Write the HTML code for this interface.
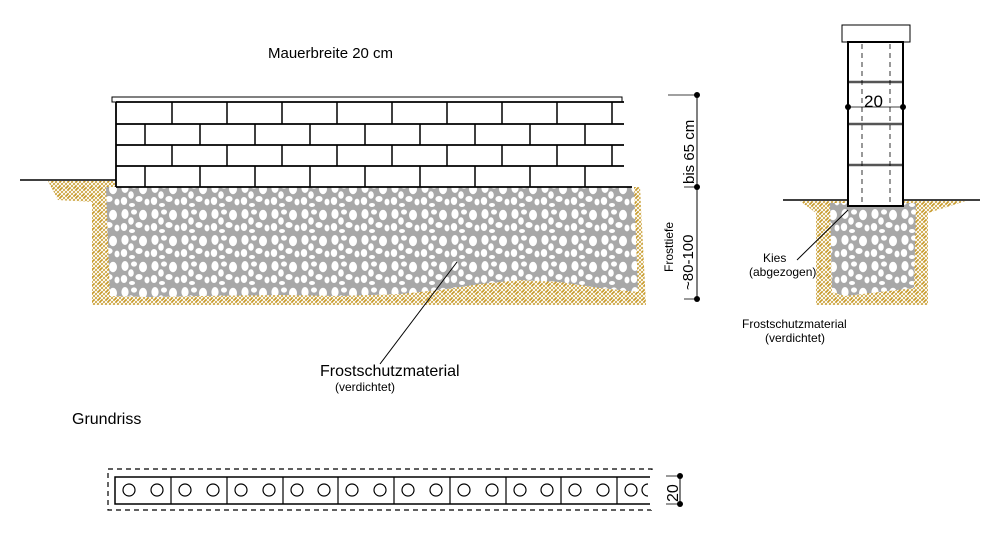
<!DOCTYPE html>
<html><head><meta charset="utf-8"><style>
html,body{margin:0;padding:0;background:#fff;}
svg{display:block;font-family:"Liberation Sans",Arial,sans-serif;}
</style></head><body>
<svg width="1000" height="539" viewBox="0 0 1000 539" xmlns="http://www.w3.org/2000/svg">
<defs>
<pattern id="soil" width="8" height="8" patternUnits="userSpaceOnUse">
<rect width="8" height="8" fill="#c79a2a"/>
<path d="M-2 10L10 -2M2 10L10 2M-2 6L6 -2" stroke="#fff" stroke-width="1"/>
<path d="M0 0L2.5 2.5M5.5 5.5L8 8M4 0L8 4M0 4L4 8" stroke="#fff" stroke-width="0.9"/>
</pattern>
<pattern id="grav" width="30" height="26" patternUnits="userSpaceOnUse">
<rect width="30" height="26" fill="#a8a8a8"/>
<g fill="#fff">
<ellipse cx="5" cy="6" rx="3.6" ry="5"/>
<ellipse cx="14" cy="4" rx="3" ry="2.6"/>
<ellipse cx="23" cy="7" rx="4" ry="5.2"/>
<ellipse cx="11" cy="13" rx="2.8" ry="3.8"/>
<ellipse cx="19" cy="17" rx="3.6" ry="3"/>
<ellipse cx="4" cy="19" rx="3.2" ry="4"/>
<ellipse cx="27" cy="20" rx="2.5" ry="3.4"/>
<ellipse cx="12" cy="23" rx="3" ry="2"/>
</g>
</pattern>
</defs>

<text x="268" y="58" font-size="15">Mauerbreite 20 cm</text>

<path d="M48 181 L116 181 L116 187 L640 187 L646 305 L92 305 L92 202 L58 200 Z" fill="url(#soil)"/>
<path d="M106 187 L634 187 L638 292 L600 288 L560 282 L520 280 L480 284 L440 290 L400 294 L340 296 L280 295 L200 296 L150 297 L110 296 Z" fill="url(#grav)"/>
<line x1="20" y1="180" x2="116" y2="180" stroke="#000" stroke-width="1.5"/>

<rect x="112" y="97" width="510" height="5" fill="#fff" stroke="#000" stroke-width="1"/>
<rect x="116" y="102" width="508" height="85" fill="#fff"/>
<g stroke="#000" stroke-width="1.8">
<line x1="116" y1="102" x2="116" y2="187"/>
<line x1="116" y1="102" x2="624" y2="102"/>
<line x1="116" y1="124" x2="624" y2="124"/>
<line x1="116" y1="145" x2="624" y2="145"/>
<line x1="116" y1="166" x2="624" y2="166"/>
<line x1="116" y1="187" x2="632" y2="187"/>
</g>
<g stroke="#000" stroke-width="1.5">
<path d="M172 102V124M227 102V124M282 102V124M337 102V124M392 102V124M447 102V124M502 102V124M557 102V124M612 102V124"/>
<path d="M145 124V145M200 124V145M255 124V145M310 124V145M365 124V145M420 124V145M475 124V145M530 124V145M585 124V145"/>
<path d="M172 145V166M227 145V166M282 145V166M337 145V166M392 145V166M447 145V166M502 145V166M557 145V166M612 145V166"/>
<path d="M145 166V187M200 166V187M255 166V187M310 166V187M365 166V187M420 166V187M475 166V187M530 166V187M585 166V187"/>
</g>

<line x1="697" y1="95" x2="697" y2="299" stroke="#000" stroke-width="1"/>
<line x1="668" y1="95" x2="697" y2="95" stroke="#000" stroke-width="0.8"/>
<line x1="684" y1="187" x2="697" y2="187" stroke="#000" stroke-width="0.8"/>
<line x1="684" y1="299" x2="697" y2="299" stroke="#000" stroke-width="0.8"/>
<circle cx="697" cy="95" r="3"/><circle cx="697" cy="187" r="3"/><circle cx="697" cy="299" r="3"/>
<text transform="translate(694,184) rotate(-90)" font-size="15">bis 65 cm</text>
<text transform="translate(673,272) rotate(-90)" font-size="12">Frosttiefe</text>
<text transform="translate(693,290) rotate(-90)" font-size="15">~80-100</text>

<line x1="457" y1="262" x2="380" y2="364" stroke="#000" stroke-width="1"/>
<text x="320" y="376" font-size="16">Frostschutzmaterial</text>
<text x="335" y="391" font-size="12">(verdichtet)</text>

<path d="M800 201 L966 201 L928 213 L928 305 L816 305 L816 213 Z" fill="url(#soil)"/>
<path d="M830 203 L916 203 L914 288 L880 292 L845 296 L832 292 Z" fill="url(#grav)"/>
<line x1="783" y1="200" x2="980" y2="200" stroke="#000" stroke-width="1.5"/>
<rect x="842" y="25" width="68" height="17" fill="#fff" stroke="#000" stroke-width="1"/>
<rect x="848" y="42" width="55" height="164" fill="#fff" stroke="#000" stroke-width="2"/>
<g stroke="#555" stroke-width="2.5">
<line x1="849" y1="82" x2="902" y2="82"/><line x1="849" y1="124" x2="902" y2="124"/><line x1="849" y1="165" x2="902" y2="165"/>
</g>
<g stroke="#000" stroke-width="0.8" stroke-dasharray="5,4">
<line x1="862" y1="44" x2="862" y2="205"/><line x1="890" y1="44" x2="890" y2="205"/>
</g>
<line x1="848" y1="107" x2="903" y2="107" stroke="#000" stroke-width="0.8"/>
<circle cx="848" cy="107" r="3"/><circle cx="903" cy="107" r="3"/>
<text x="864" y="107" font-size="17">20</text>
<line x1="797" y1="260" x2="848" y2="210" stroke="#000" stroke-width="1"/>
<text x="763" y="262" font-size="12">Kies</text>
<text x="749" y="276" font-size="12">(abgezogen)</text>
<text x="742" y="328" font-size="12">Frostschutzmaterial</text>
<text x="765" y="342" font-size="12">(verdichtet)</text>

<text x="72" y="424" font-size="16">Grundriss</text>
<rect x="108" y="469" width="544" height="41" fill="none" stroke="#000" stroke-width="1.2" stroke-dasharray="5,4"/>
<path d="M650 477H115V504H650" fill="none" stroke="#000" stroke-width="1.5"/>
<g stroke="#000" stroke-width="1.2" fill="none">
<path d="M171 477V504M227 477V504M283 477V504M338 477V504M394 477V504M450 477V504M506 477V504M561 477V504M617 477V504"/>
<circle cx="129" cy="490" r="6"/><circle cx="157" cy="490" r="6"/>
<circle cx="185" cy="490" r="6"/><circle cx="213" cy="490" r="6"/>
<circle cx="241" cy="490" r="6"/><circle cx="269" cy="490" r="6"/>
<circle cx="297" cy="490" r="6"/><circle cx="324" cy="490" r="6"/>
<circle cx="352" cy="490" r="6"/><circle cx="380" cy="490" r="6"/>
<circle cx="408" cy="490" r="6"/><circle cx="436" cy="490" r="6"/>
<circle cx="464" cy="490" r="6"/><circle cx="492" cy="490" r="6"/>
<circle cx="520" cy="490" r="6"/><circle cx="547" cy="490" r="6"/>
<circle cx="575" cy="490" r="6"/><circle cx="603" cy="490" r="6"/>
<circle cx="631" cy="490" r="6"/>
<path d="M648 484 A6 6 0 0 0 648 496"/>
</g>
<rect x="651" y="470" width="10" height="40" fill="#fff"/>
<line x1="680" y1="476" x2="680" y2="504" stroke="#000" stroke-width="1"/>
<line x1="666" y1="476" x2="680" y2="476" stroke="#000" stroke-width="0.8"/>
<line x1="666" y1="504" x2="680" y2="504" stroke="#000" stroke-width="0.8"/>
<circle cx="680" cy="476" r="3"/><circle cx="680" cy="504" r="3"/>
<text transform="translate(678,502) rotate(-90)" font-size="16">20</text>
</svg>
</body></html>
